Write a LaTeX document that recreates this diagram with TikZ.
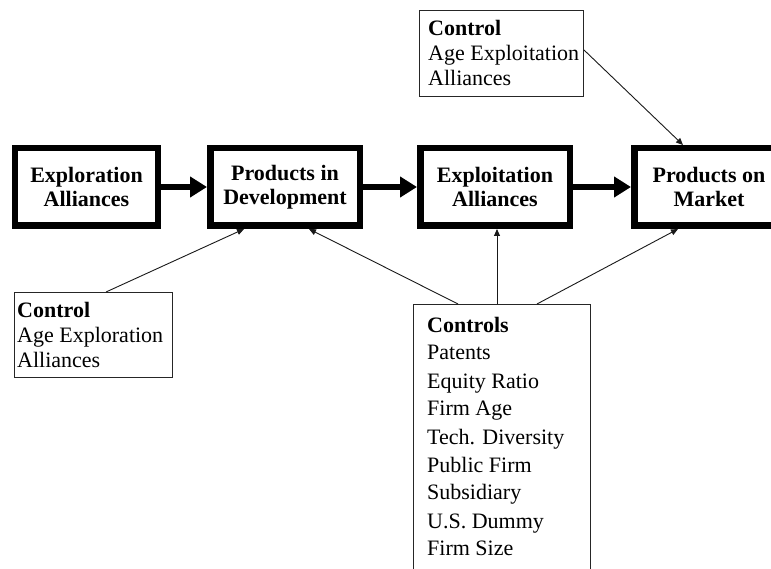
\documentclass[tikz,border=0pt]{standalone}
\usepackage{fontspec}
\setmainfont{Liberation Serif}
\usetikzlibrary{arrows.meta,calc}
\begin{document}
\begin{tikzpicture}[x=1pt,y=-1pt,
  mainbox/.style={draw=black,line width=6.5pt,fill=white,minimum width=143pt,minimum height=77.5pt,inner sep=0pt,align=center,font=\fontsize{22}{24.5}\selectfont\bfseries},
  ctlbox/.style={draw=black!85,line width=1pt,anchor=north west,inner sep=0pt},
  ctltext/.style={anchor=base west,inner sep=0pt,font=\fontsize{22}{25}\selectfont},
  thick arrow/.style={line width=6pt,-{Triangle[length=17pt,width=20pt]}},
  thin arrow/.style={line width=0.9pt,black!90,-{Triangle[length=7pt,width=6pt]}}]
\useasboundingbox (0,0) rectangle (771,569);
\clip (0,0) rectangle (771,569);
\fill[white] (0,0) rectangle (771,569);
% main boxes
\node[mainbox] (expl) at (86.5,187) {Exploration\\Alliances};
\node[mainbox,minimum width=149.5pt] (pid) at (285,187) {Products in\\Development};
\node[mainbox,minimum width=149.5pt] (expt) at (495,187) {Exploitation\\Alliances};
\node[mainbox,minimum width=149.5pt] (mkt) at (709,187) {Products on\\Market};
% control boxes
\node[ctlbox,minimum width=164pt,minimum height=86pt] (topctl) at (419,10) {};
\node[ctltext] (topctltxt) at (428,36) {\vtop{\baselineskip=25pt\hbox{\textbf{Control}}\hbox{Age Exploitation}\hbox{Alliances}}};
\node[ctlbox,minimum width=158pt,minimum height=85pt] (leftctl) at (14,292) {};
\node[ctltext] (leftctltxt) at (17,317) {\vtop{\baselineskip=25.5pt\hbox{\textbf{Control}}\hbox{Age Exploration}\hbox{Alliances}}};
\node[ctlbox,minimum width=177pt,minimum height=280pt] (ctls) at (413,304) {};
\node[ctltext] (ctlstxt) at (427,332) {\vtop{\baselineskip=28pt\hbox{\textbf{Controls}}\hbox{Patents}\hbox{Equity Ratio}\hbox{Firm Age}\hbox{Tech. Diversity}\hbox{Public Firm}\hbox{Subsidiary}\hbox{U.S. Dummy}\hbox{Firm Size}}};
% thick arrows
\draw[thick arrow] (expl.east) -- (pid.west);
\draw[thick arrow] (pid.east) -- (expt.west);
\draw[thick arrow] (expt.east) -- (mkt.west);
% thin arrows
\coordinate (lc) at ($(leftctl.north west)+(92,0)$);
\coordinate (c1) at ($(ctls.north west)+(45,0)$);
\coordinate (c2) at ($(ctls.north west)+(84,0)$);
\coordinate (c3) at ($(ctls.north west)+(124,0)$);
\coordinate (tc) at ($(topctl.north east)+(0,40)$);
\draw[thin arrow] (lc) -- ($(pid.south west)+(37,0)$);
\draw[thin arrow] (c1) -- ($(pid.south west)+(102,0)$);
\draw[thin arrow] (c2) -- (c2 |- expt.south);
\draw[thin arrow] (c3) -- ($(mkt.south west)+(47,0)$);
\draw[thin arrow] (tc) -- ($(mkt.north west)+(52,0)$);
\end{tikzpicture}
\end{document}
